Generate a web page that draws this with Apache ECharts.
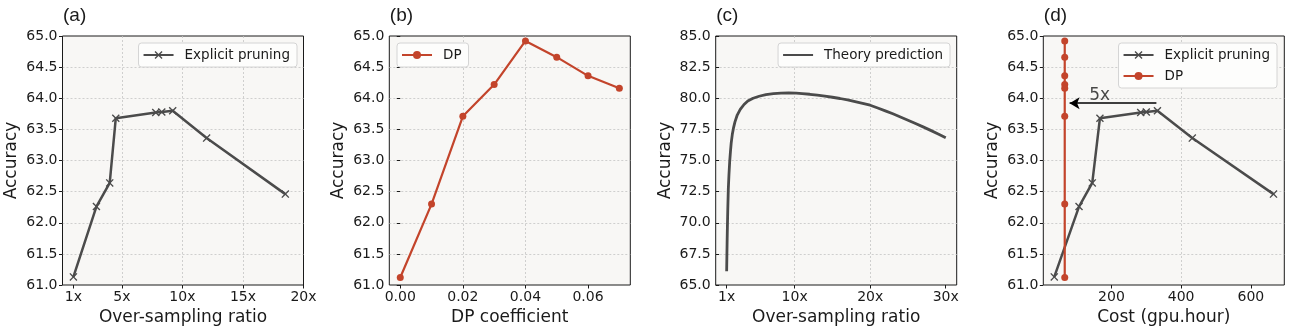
<!DOCTYPE html>
<html>
<head>
<meta charset="utf-8">
<script src="https://cdn.jsdelivr.net/npm/echarts@6/dist/echarts.min.js"></script>
<style>
  html, body { margin: 0; padding: 0; background: #ffffff; }
  #chart { width: 1294px; height: 331px; }
</style>
</head>
<body>
<div id="chart"></div>
<script>
// (a) explicit pruning: accuracy vs over-sampling ratio
const ratioA = [1, 2.9, 4.0, 4.5, 7.8, 8.3, 9.2, 12, 18.5];
const accPruning = [61.13, 62.26, 62.64, 63.68, 63.77, 63.78, 63.80, 63.36, 62.46];

// (b) DP coefficient sweep
const dpCoef = [0, 0.01, 0.02, 0.03, 0.04, 0.05, 0.06, 0.07];
const accDP = [61.12, 62.30, 63.71, 64.22, 64.92, 64.66, 64.36, 64.16];

// (c) theory prediction curve
const theoryRatio = [1, 1.03, 1.06, 1.1, 1.15, 1.22, 1.3, 1.4, 1.5, 1.6, 1.75, 1.9, 2.1, 2.4, 2.8, 3.3, 3.8,
  4.5, 5.3, 6.2, 7.2, 8.2, 9.2, 10.2, 11, 12, 13, 14, 15, 16, 17, 18, 19, 20, 21, 22, 23, 24, 25, 26, 27, 28, 29, 30];
const theoryAcc = [66.1, 67.3, 68.4, 69.7, 71.1, 72.7, 73.8, 74.9, 75.7, 76.4, 77.1, 77.6, 78.1, 78.65, 79.1, 79.5, 79.78,
  80.0, 80.16, 80.29, 80.37, 80.41, 80.42, 80.41, 80.37, 80.32, 80.25, 80.17, 80.08, 79.98, 79.86, 79.73, 79.59, 79.44,
  79.22, 78.99, 78.75, 78.50, 78.24, 77.97, 77.70, 77.42, 77.13, 76.82];

// (d) accuracy vs training cost
const costPruning = [36, 107, 145, 167, 284, 300, 332, 432, 665];
const costDP = [66, 66, 66, 66, 66, 66, 66, 66];
const speedupFrom = [329, 63.92];
const speedupTo = [80, 63.92];
const speedupText = '5x';
const speedupTextAt = [166, 64.05];

// tick values
const ticksA = [1, 5, 10, 15, 20];
const ticksB = [0, 0.02, 0.04, 0.06];
const ticksC = [1, 10, 20, 30];
const ticksD = [200, 400, 600];
const panelTags = ['(a)', '(b)', '(c)', '(d)'];

const GRAY = '#4b4b4b';
const RED = '#c3442b';
const INK = '#1a1a1a';
const FONT = 'DejaVu Sans';
const X_MARK = 'path://M0,1.2L1.2,0L5,3.8L8.8,0L10,1.2L6.2,5L10,8.8L8.8,10L5,6.2L1.2,10L0,8.8L3.8,5Z';

const zip = (xs, ys) => xs.map((x, i) => [x, ys[i]]);

const lefts = [62.5, 389.3, 715.7, 1043.3];
const grids = lefts.map(l => ({
  left: l, top: 36, width: 241, height: 249,
  show: true, backgroundColor: '#f8f7f5', borderColor: INK, borderWidth: 1,
  containLabel: false
}));

const gridLine = {
  show: true, showMinLine: false, showMaxLine: false,
  lineStyle: { color: '#c4c4c4', width: 0.8, type: [2, 2] }
};

function xAxis(idx, min, max, ticks, fmt, name) {
  return {
    type: 'value', gridIndex: idx, min: min, max: max,
    name: name, nameLocation: 'middle', nameGap: 23,
    nameTextStyle: { fontFamily: FONT, fontSize: 17, color: INK },
    axisLine: { show: false },
    axisTick: { show: true, inside: false, length: 3.5, customValues: ticks, lineStyle: { color: INK, width: 1 } },
    axisLabel: { show: true, customValues: ticks, margin: 5, formatter: fmt, fontFamily: FONT, fontSize: 14, color: INK },
    splitLine: gridLine
  };
}
function yAxis(idx, min, max, interval) {
  return {
    type: 'value', gridIndex: idx, min: min, max: max, interval: interval,
    name: 'Accuracy', nameLocation: 'middle', nameGap: 42,
    nameTextStyle: { fontFamily: FONT, fontSize: 17, color: INK },
    axisLine: { show: false },
    axisTick: { show: true, inside: false, length: 3.5, lineStyle: { color: INK, width: 1 } },
    axisLabel: { margin: 5, formatter: v => v.toFixed(1), fontFamily: FONT, fontSize: 14, color: INK },
    splitLine: gridLine
  };
}

const legendBase = {
  itemWidth: 30, itemHeight: 10, itemGap: 7,
  backgroundColor: '#fdfdfc', borderColor: '#d4d4d4', borderWidth: 1, borderRadius: 3,
  padding: [5, 7, 5, 4],
  textStyle: { fontFamily: FONT, fontSize: 13.5, color: INK, padding: [0, 0, 0, 6] }
};

const option = {
  animation: false,
  backgroundColor: '#ffffff',
  title: panelTags.map((t, i) => ({
    text: t, left: lefts[i] + 0.5, top: 6, padding: 0,
    textStyle: { fontFamily: 'Liberation Sans', fontSize: 19, fontWeight: 'normal', color: INK }
  })),
  grid: grids,
  legend: [
    Object.assign({}, legendBase, { data: ['Explicit pruning'], right: 1294 - 297, top: 43 }),
    Object.assign({}, legendBase, { data: ['DP'], left: 397, top: 43 }),
    Object.assign({}, legendBase, { data: ['Theory prediction'], right: 1294 - 950, top: 43,
      itemStyle: { opacity: 0 } }),
    Object.assign({}, legendBase, { data: ['Explicit pruning', 'DP'], orient: 'vertical', right: 1294 - 1277, top: 43 })
  ],
  xAxis: [
    xAxis(0, 0.1, 20, ticksA, v => v + 'x', 'Over-sampling ratio'),
    xAxis(1, -0.0035, 0.0735, ticksB, v => v.toFixed(2), 'DP coefficient'),
    xAxis(2, -0.45, 31.45, ticksC, v => v + 'x', 'Over-sampling ratio'),
    xAxis(3, 4.5, 696, ticksD, v => String(v), 'Cost (gpu.hour)')
  ],
  yAxis: [
    yAxis(0, 61, 65, 0.5),
    yAxis(1, 61, 65, 0.5),
    yAxis(2, 65, 85, 2.5),
    yAxis(3, 61, 65, 0.5)
  ],
  series: [
    {
      name: 'Explicit pruning', type: 'line', xAxisIndex: 0, yAxisIndex: 0,
      data: zip(ratioA, accPruning),
      symbol: X_MARK, symbolSize: 8,
      lineStyle: { color: GRAY, width: 2.5 }, itemStyle: { color: GRAY }
    },
    {
      name: 'DP', type: 'line', xAxisIndex: 1, yAxisIndex: 1,
      data: zip(dpCoef, accDP),
      symbol: 'circle', symbolSize: 7,
      lineStyle: { color: RED, width: 2.2 }, itemStyle: { color: RED }
    },
    {
      name: 'Theory prediction', type: 'line', xAxisIndex: 2, yAxisIndex: 2,
      data: zip(theoryRatio, theoryAcc),
      symbol: 'none', smooth: false,
      lineStyle: { color: GRAY, width: 2.8, join: 'round' }, itemStyle: { color: GRAY }
    },
    {
      name: 'Explicit pruning', type: 'line', xAxisIndex: 3, yAxisIndex: 3,
      data: zip(costPruning, accPruning),
      symbol: X_MARK, symbolSize: 8,
      lineStyle: { color: GRAY, width: 2.5 }, itemStyle: { color: GRAY },
      markLine: {
        silent: true, animation: false,
        symbol: ['none', 'arrow'], symbolSize: [9, 10],
        lineStyle: { color: '#000000', width: 1.5, type: 'solid' },
        label: { show: false },
        data: [[{ coord: speedupFrom }, { coord: speedupTo }]]
      }
    },
    {
      name: 'DP', type: 'line', xAxisIndex: 3, yAxisIndex: 3,
      data: zip(costDP, accDP),
      symbol: 'circle', symbolSize: 7,
      lineStyle: { color: RED, width: 2.2 }, itemStyle: { color: RED }
    },
    {
      name: 'speedup', type: 'scatter', xAxisIndex: 3, yAxisIndex: 3,
      data: [speedupTextAt], symbolSize: 0, silent: true,
      label: { show: true, position: 'inside', formatter: speedupText,
        fontFamily: FONT, fontSize: 17, color: INK }
    }
  ]
};

const chart = echarts.init(document.getElementById('chart'), null, { renderer: 'canvas' });
chart.setOption(option);
</script>
</body>
</html>
